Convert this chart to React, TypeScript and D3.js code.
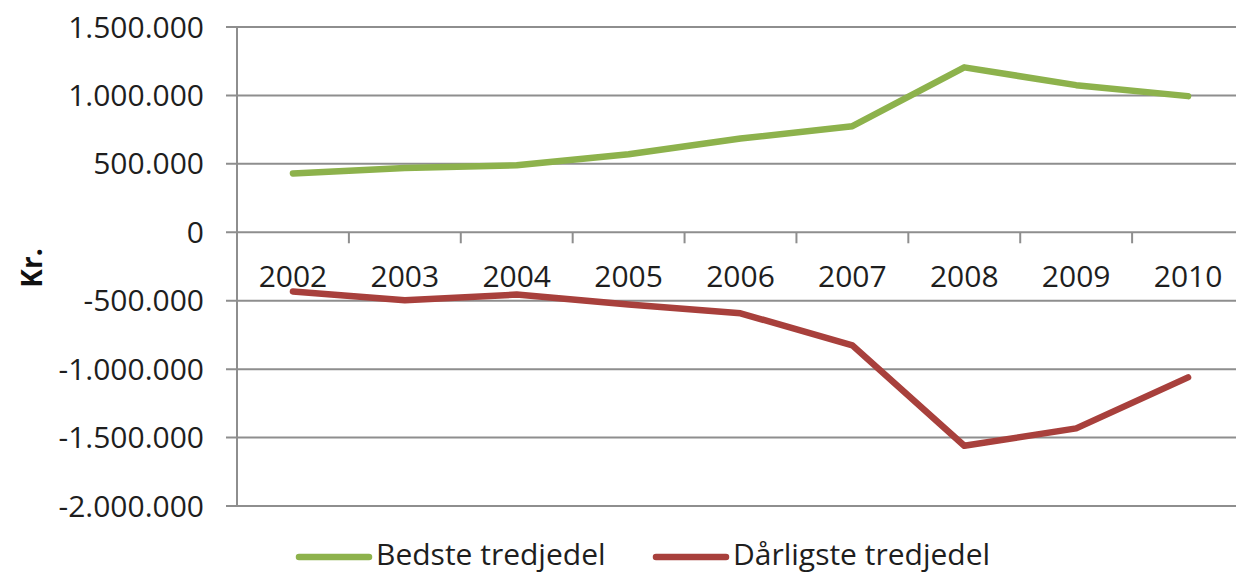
import { scaleBand, scaleLinear, line as d3line } from "d3";

const years = ["2002", "2003", "2004", "2005", "2006", "2007", "2008", "2009", "2010"];
const bedste = [430000, 470000, 490000, 570000, 685000, 775000, 1205000, 1075000, 995000];
const daarligste = [-432000, -497000, -455000, -527000, -592000, -826000, -1560000, -1433000, -1060000];
const yTicks = [1500000, 1000000, 500000, 0, -500000, -1000000, -1500000, -2000000];

const series = [
  { name: "Bedste tredjedel", values: bedste, color: "#8db24c" },
  { name: "Dårligste tredjedel", values: daarligste, color: "#a8403c" },
];

const W = 1236;
const H = 573;
const FONT = "'Open Sans', 'Noto Sans', sans-serif";

// danish thousands separator
const fmt = (v: number) => {
  const s = Math.abs(v).toString().replace(/\B(?=(\d{3})+(?!\d))/g, ".");
  return v < 0 ? "-" + s : s;
};

export default function App() {
  const left = 237;
  const right = 1244;

  const x = scaleBand<string>().domain(years).range([left, right]).padding(0);
  const y = scaleLinear().domain([-2000000, 1500000]).range([506, 27]);

  const line = d3line<number>()
    .x((_, i) => (x(years[i]) ?? 0) + x.bandwidth() / 2)
    .y((d) => y(d));

  const grid = "#8e8e8e";

  return (
    <div style={{ position: "absolute", left: 0, top: 0 }}>
      <svg width={W} height={H} style={{ display: "block", background: "#fff" }} fontFamily={FONT}>
        {/* gridlines + y ticks */}
        {yTicks.map((t) => (
          <g key={t}>
            <line x1={left - 11} x2={right} y1={y(t)} y2={y(t)} stroke={grid} strokeWidth={2} />
            <text x={204} y={y(t) + 10.5} textAnchor="end" fontSize={30} fill="#1e1e1e">
              {fmt(t)}
            </text>
          </g>
        ))}

        {/* y axis */}
        <line x1={left} x2={left} y1={y(1500000)} y2={y(-2000000)} stroke={grid} strokeWidth={2} />

        {/* x ticks on zero line */}
        {years.slice(1).map((yr) => (
          <line
            key={yr}
            x1={x(yr) ?? 0}
            x2={x(yr) ?? 0}
            y1={y(0)}
            y2={y(0) + 11}
            stroke={grid}
            strokeWidth={2}
          />
        ))}

        {/* category labels */}
        {years.map((yr) => (
          <text
            key={yr}
            x={(x(yr) ?? 0) + x.bandwidth() / 2}
            y={y(0) + 55}
            textAnchor="middle"
            fontSize={30}
            fill="#1e1e1e"
          >
            {yr}
          </text>
        ))}

        {/* lines */}
        {series.map((s) => (
          <path
            key={s.name}
            d={line(s.values) ?? undefined}
            fill="none"
            stroke={s.color}
            strokeWidth={6.5}
            strokeLinejoin="round"
            strokeLinecap="round"
          />
        ))}

        {/* y label */}
        <text
          transform={`translate(42, 268) rotate(-90)`}
          textAnchor="middle"
          fontSize={28}
          fontWeight="bold"
          fill="#111"
        >
          Kr.
        </text>

        {/* legend */}
        {series.map((s, i) => {
          const lx = i === 0 ? 299 : 656;
          return (
            <g key={s.name}>
              <line x1={lx} x2={lx + 70} y1={557} y2={557} stroke={s.color} strokeWidth={6.5} strokeLinecap="round" />
              <text x={lx + 77} y={565} fontSize={30} fill="#1e1e1e">
                {s.name}
              </text>
            </g>
          );
        })}
      </svg>
    </div>
  );
}
